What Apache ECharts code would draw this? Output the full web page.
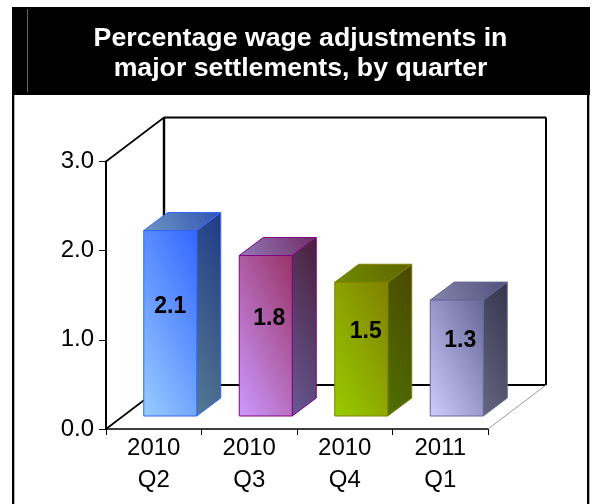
<!DOCTYPE html>
<html>
<head>
<meta charset="utf-8">
<style>html,body{margin:0;padding:0;background:#fff}#c{width:595px;height:504px}</style>
<script src="https://cdn.jsdelivr.net/npm/echarts@6/dist/echarts.min.js"></script>
</head>
<body>
<div id="c"></div>
<script>
const categories = ['2010\nQ2', '2010\nQ3', '2010\nQ4', '2011\nQ1'];
const values = [2.08, 1.8, 1.5, 1.3];
const valueLabels = ['2.1', '1.8', '1.5', '1.3'];
const yTicks = [0, 1, 2, 3];
const titleText = 'Percentage wage adjustments in\nmajor settlements, by quarter';
const FONT = '"Liberation Sans", Arial, sans-serif';

const palette = [
  {edge:'#3366ff', labelDx:0, face:['#99ccff','#3366ff'], side:['#567a90','#1d3a88'], top:['#6f96c4','#3053b0']},
  {edge:'#800080', labelDx:3.5, face:['#cc99ff','#993366'], side:['#665a95','#4a1f3a'], top:['#9478b8','#702d66']},
  {edge:'#808000', labelDx:4.5, face:['#99cc00','#808000'], side:['#4f7000','#4a4800'], top:['#6f8c00','#5f6400']},
  {edge:'#666699', labelDx:3.5, face:['#ccccff','#666699'], side:['#666680','#34344f'], top:['#8585ad','#50507a']}
];
const wall = {dx:58, dy:44};
const bar = {width:53, shiftX:16.5, shiftY:13, dx:24, dy:18};
const GRAD_SLOPE = 0.5;

// bottom-left light to top-right dark, isolines steeper than the box diagonal
function grad(c, xa, yBottom, xb, yTop){
  const w = xb - xa, h = yBottom - yTop;
  const t = (w + GRAD_SLOPE * h) / (1 + GRAD_SLOPE * GRAD_SLOPE);
  return {type:'linear', global:true, x:xa, y:yBottom, x2:xa + t, y2:yBottom - GRAD_SLOPE * t,
    colorStops:[{offset:0,color:c[0]},{offset:1,color:c[1]}]};
}
function poly(points, fill, stroke, w){
  return {type:'polygon', shape:{points}, style:{fill, stroke, lineWidth:w, lineJoin:'miter'}};
}
function line(a, b, stroke, w){
  return {type:'line', shape:{x1:a[0],y1:a[1],x2:b[0],y2:b[1]}, style:{stroke, lineWidth:w}};
}

function renderWall(params, api){
  const r = params.coordSys;
  const L = r.x, R = r.x + r.width, T = r.y, B = r.y + r.height;
  const d = wall;
  return {type:'group', children:[
    line([L,T],[L+d.dx,T-d.dy],'#000',1.6),
    line([L+d.dx,T-d.dy],[R+d.dx,T-d.dy],'#000',2),
    line([L+d.dx,T-d.dy],[L+d.dx,B-d.dy],'#000',2.4),
    line([R+d.dx,T-d.dy],[R+d.dx,B-d.dy],'#000',2),
    line([L+d.dx,B-d.dy],[R+d.dx,B-d.dy],'#000',2.2),
    line([L,B],[L+d.dx,B-d.dy],'#000',1.6),
    line([R,B],[R+d.dx,B-d.dy],'#9a9a9a',1)
  ]};
}

function renderBar(params, api){
  const i = api.value(0), v = api.value(1);
  const c = palette[i];
  const topPt = api.coord([i, v]);
  const basePt = api.coord([i, 0]);
  const x0 = topPt[0] - bar.width/2 + bar.shiftX, x1 = x0 + bar.width;
  const yT = topPt[1] - bar.shiftY, yB = basePt[1] - bar.shiftY;
  const dx = bar.dx, dy = bar.dy;
  return {type:'group', children:[
    poly([[x1,yT],[x1+dx,yT-dy],[x1+dx,yB-dy],[x1,yB]], grad(c.side, x1, yB, x1+dx, yT-dy), c.edge, 1),
    poly([[x0,yT],[x0+dx,yT-dy],[x1+dx,yT-dy],[x1,yT]], grad(c.top, x0, yT, x1+dx, yT-dy), c.edge, 1),
    poly([[x0,yT],[x1,yT],[x1,yB],[x0,yB]], grad(c.face, x0, yB, x1, yT), c.edge, 1),
    {type:'text', style:{
      text:valueLabels[i], x:(x0+x1)/2+c.labelDx, y:(yT+yB)/2-17,
      align:'center', verticalAlign:'middle',
      font:'bold 23px '+FONT, fill:'#000'}, z2:10}
  ]};
}

const chart = echarts.init(document.getElementById('c'), null, {renderer:'canvas'});
chart.setOption({
  animation:false,
  backgroundColor:'#fff',
  title:{text:titleText, left:295.5, top:19, textAlign:'center',
    textStyle:{color:'#fff', fontFamily:FONT, fontWeight:'bold', fontSize:26.7, lineHeight:30}, z:10},
  graphic:[
    {type:'rect', z:-1, shape:{x:12,y:7,width:578,height:88}, style:{fill:'#000'}},
    {type:'line', z:0, shape:{x1:27.5,y1:9,x2:27.5,y2:92}, style:{stroke:'#666',lineWidth:1}},
    {type:'rect', z:-1, shape:{x:12,y:95,width:2.3,height:409}, style:{fill:'#000'}},
    {type:'rect', z:-1, shape:{x:587,y:95,width:2.3,height:409}, style:{fill:'#000'}}
  ],
  grid:{left:106, width:382, top:161.5, height:267.5, containLabel:false},
  xAxis:{type:'category', data:categories,
    axisLine:{lineStyle:{color:'#000',width:1.5}},
    axisTick:{show:true, alignWithLabel:false, length:6, lineStyle:{color:'#000',width:1}},
    axisLabel:{color:'#000', fontFamily:FONT, fontSize:24, lineHeight:32, margin:3, interval:0},
    splitLine:{show:false}},
  yAxis:{type:'value', min:yTicks[0], max:yTicks[yTicks.length-1], interval:1,
    axisLine:{show:true, lineStyle:{color:'#000',width:2}},
    axisTick:{show:true, length:7, lineStyle:{color:'#000',width:1}},
    axisLabel:{color:'#000', fontFamily:FONT, fontSize:24, margin:12,
      formatter:v=>v.toFixed(1)},
    splitLine:{show:false}},
  series:[
    {type:'custom', z:1, silent:true, renderItem:renderWall, data:[[0,0]], clip:false},
    {type:'custom', z:3, silent:true, renderItem:renderBar, encode:{x:0,y:1},
      data:values.map((v,i)=>[i,v]), clip:false}
  ]
});
</script>
</body>
</html>
